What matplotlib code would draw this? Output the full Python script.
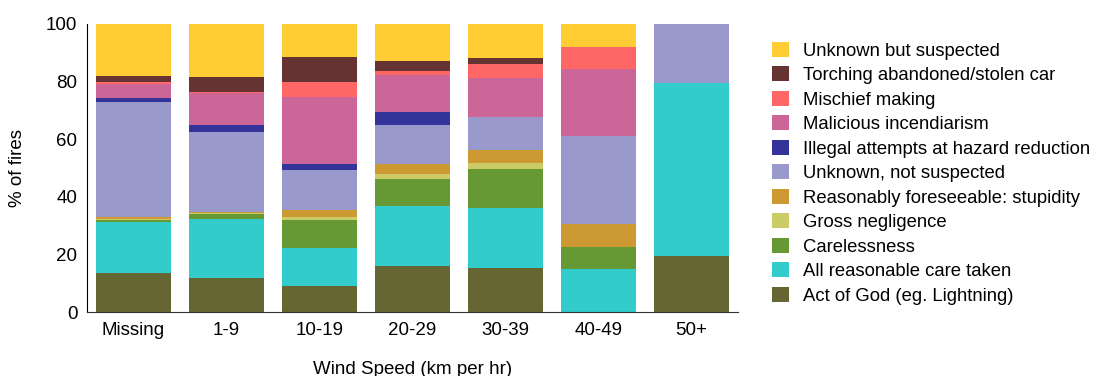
import matplotlib
matplotlib.use("Agg")
import matplotlib.pyplot as plt
import numpy as np

plt.rcParams['font.family'] = ['Liberation Sans', 'DejaVu Sans']

categories = ["Missing", "1-9", "10-19", "20-29", "30-39", "40-49", "50+"]

# series listed bottom to top
act_of_god   = [13.4, 11.8, 8.9, 15.9, 15.2, 0.0, 19.5]
care_taken   = [17.7, 20.4, 13.2, 20.8, 20.8, 14.8, 60.0]
carelessness = [0.7, 1.7, 9.7, 9.4, 13.5, 7.7, 0.0]
gross_negl   = [0.5, 0.5, 1.1, 1.7, 2.1, 0.0, 0.0]
stupidity    = [0.6, 0.3, 2.5, 3.5, 4.7, 8.1, 0.0]
unknown_ns   = [39.9, 27.7, 13.8, 13.5, 11.3, 30.5, 20.5]
illegal      = [1.4, 2.4, 2.1, 4.5, 0.0, 0.0, 0.0]
malicious    = [5.0, 11.4, 23.2, 12.9, 13.5, 23.2, 0.0]
mischief     = [0.7, 0.2, 5.2, 1.4, 4.9, 7.6, 0.0]
torching     = [2.0, 5.1, 8.7, 3.4, 2.1, 0.0, 0.0]
unknown_susp = [18.1, 18.5, 11.6, 13.0, 11.9, 8.1, 0.0]

series = [
    ("Act of God (eg. Lightning)", act_of_god, "#666633"),
    ("All reasonable care taken", care_taken, "#33CCCC"),
    ("Carelessness", carelessness, "#669933"),
    ("Gross negligence", gross_negl, "#CCCC66"),
    ("Reasonably foreseeable: stupidity", stupidity, "#CC9933"),
    ("Unknown, not suspected", unknown_ns, "#9999CC"),
    ("Illegal attempts at hazard reduction", illegal, "#333399"),
    ("Malicious incendiarism", malicious, "#CC6699"),
    ("Mischief making", mischief, "#FF6666"),
    ("Torching abandoned/stolen car", torching, "#663333"),
    ("Unknown but suspected", unknown_susp, "#FFCC33"),
]

FS = 13.5

fig = plt.figure(figsize=(10.94, 3.76), dpi=100)
ax = fig.add_axes([0.0795, 0.1702, 0.595, 0.766])

x = np.arange(len(categories))
bottom = np.zeros(len(categories))
handles = []
for name, vals, col in series:
    v = np.array(vals)
    b = ax.bar(x, v, width=0.8, bottom=bottom, color=col, label=name, linewidth=0)
    handles.append(b)
    bottom += v

ax.set_xlim(-0.5, 6.5)
ax.set_ylim(0, 100)
ax.set_yticks([0, 20, 40, 60, 80, 100])
ax.set_xticks(x)
ax.set_xticklabels(categories)
ax.tick_params(axis='both', length=0, labelsize=FS, pad=7)
ax.spines['top'].set_visible(False)
ax.spines['right'].set_visible(False)
ax.spines['left'].set_color('black')
ax.spines['bottom'].set_color('#333333')
ax.set_ylabel("% of fires", fontsize=FS, labelpad=14)
ax.set_xlabel("Wind Speed (km per hr)", fontsize=FS, labelpad=16)

fig.legend(handles[::-1], [s[0] for s in series][::-1], loc='upper left',
           bbox_to_anchor=(0.6993, 0.909), frameon=False, fontsize=13.3,
           handlelength=0.9, handleheight=0.9, handletextpad=0.75,
           labelspacing=0.35, borderaxespad=0)

fig.savefig("out.png", dpi=100)
